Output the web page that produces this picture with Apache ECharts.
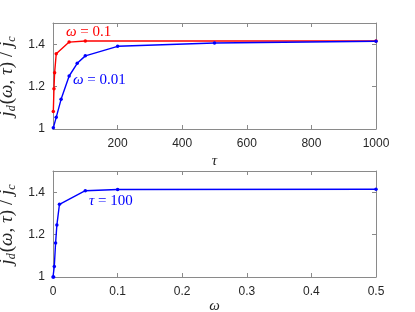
<!DOCTYPE html>
<html><head><meta charset="utf-8">
<script src="https://cdn.jsdelivr.net/npm/echarts@6/dist/echarts.min.js"></script>
<style>html,body{margin:0;padding:0;background:#fff}#c{width:415px;height:312px}</style>
</head><body><div id="c"></div>
<script>
// top panel: omega = 0.1 and omega = 0.01 versus tau
const tauRed = [1, 3, 5, 10, 50, 100, 1000];
const valRed = [1.083, 1.19, 1.265, 1.355, 1.41, 1.415, 1.415];
const tauBlue = [1, 10, 25, 50, 75, 100, 200, 500, 1000];
const valBlue = [1.006, 1.055, 1.14, 1.25, 1.31, 1.345, 1.39, 1.406, 1.414];
// bottom panel: tau = 100 versus omega
const omega = [0, 0.001, 0.002, 0.004, 0.006, 0.01, 0.05, 0.1, 0.5];
const valOmega = [1.0, 1.0, 1.05, 1.16, 1.245, 1.343, 1.407, 1.413, 1.414];
const xTicksTop = [0, 200, 400, 600, 800, 1000];
const xTicksBottom = [0, 0.1, 0.2, 0.3, 0.4, 0.5];
const yTicks = [1, 1.2, 1.4];

const axisCol = '#8a8a8a';
const txtCol = '#262626';
const serif = 'Liberation Serif';

function xAxisPair(gi, max, interval, hideZero, nameRich, gap) {
  return [
    {type:'value', gridIndex:gi, min:0, max:max, interval:interval, position:'bottom',
     axisLine:{show:true,onZero:false,lineStyle:{color:axisCol,width:1}},
     axisTick:{show:true,inside:true,length:4,lineStyle:{color:axisCol}},
     splitLine:{show:false},
     axisLabel:{color:txtCol,fontSize:12,fontFamily:'Liberation Sans',margin:9,
       formatter:v=> (hideZero && v===0) ? '' : String(v)},
     name:nameRich, nameLocation:'middle', nameGap:gap,
     nameTextStyle:{fontFamily:serif,fontStyle:'italic',fontSize:15,color:txtCol}},
    {type:'value', gridIndex:gi, min:0, max:max, interval:interval, position:'top',
     axisLine:{show:true,onZero:false,lineStyle:{color:axisCol,width:1}},
     axisTick:{show:true,inside:true,length:4,lineStyle:{color:axisCol}},
     splitLine:{show:false}, axisLabel:{show:false}}
  ];
}
function yAxisPair(gi) {
  return [
    {type:'value', gridIndex:gi, min:1, max:1.5, interval:0.2, position:'left',
     axisLine:{show:true,onZero:false,lineStyle:{color:axisCol,width:1}},
     axisTick:{show:true,inside:true,length:4,lineStyle:{color:axisCol}},
     splitLine:{show:false},
     axisLabel:{color:txtCol,fontSize:12,fontFamily:'Liberation Sans',margin:8,
       formatter:v=> yTicks.indexOf(Math.round(v*10)/10)>=0 ? (v===1?'1':v.toFixed(1)) : ''},
     name:'{i|j}{s|d}{r|(}{i|ω}{r|, }{i|τ}{r|) / }{i|j}{s|c}', nameLocation:'middle', nameGap:30, nameRotate:90,
     nameTextStyle:{color:txtCol, rich:{
       i:{fontFamily:serif,fontStyle:'italic',fontSize:19,color:txtCol},
       r:{fontFamily:serif,fontSize:19,color:txtCol},
       s:{fontFamily:serif,fontStyle:'italic',fontSize:12,color:txtCol,verticalAlign:'bottom',padding:[8,1,0,0]}
     }}},
    {type:'value', gridIndex:gi, min:1, max:1.5, interval:0.2, position:'right',
     axisLine:{show:true,onZero:false,lineStyle:{color:axisCol,width:1}},
     axisTick:{show:true,inside:true,length:4,lineStyle:{color:axisCol}},
     splitLine:{show:false}, axisLabel:{show:false}}
  ];
}

const chart = echarts.init(document.getElementById('c'), null, {renderer:'canvas'});
const lineSeries = (name, xi, yi, xs, ys, color) => ({
  name, type:'line', xAxisIndex:xi, yAxisIndex:yi,
  data: xs.map((x,i)=>[x, ys[i]]),
  symbol:'circle', symbolSize:3.5, showSymbol:true,
  lineStyle:{color, width:1.4}, itemStyle:{color}, animation:false, z:3
});
const rich = {
  i:{fontFamily:serif,fontStyle:'italic',fontSize:15},
  r:{fontFamily:serif,fontSize:15}
};
chart.setOption({
  animation:false,
  grid:[{left:53,right:39,top:23,height:106,containLabel:false,outerBoundsMode:'none'},
        {left:53,right:39,top:171,height:106,containLabel:false,outerBoundsMode:'none'}],
  xAxis:[...xAxisPair(0,1000,200,true,'τ',25), ...xAxisPair(1,0.5,0.1,false,'ω',22)],
  yAxis:[...yAxisPair(0), ...yAxisPair(1)],
  series:[
    lineSeries('w01',0,0,tauRed,valRed,'#ff0000'),
    lineSeries('w001',0,0,tauBlue,valBlue,'#0000ff'),
    lineSeries('t100',2,2,omega,valOmega,'#0000ff')
  ],
  graphic:[
    {type:'text',left:66,top:25,style:{text:'{i|ω}{r| = 0.1}',rich,fill:'#ff0000'}},
    {type:'text',left:73,top:73,style:{text:'{i|ω}{r| = 0.01}',rich,fill:'#0000ff'}},
    {type:'text',left:89,top:194,style:{text:'{i|τ}{r| = 100}',rich,fill:'#0000ff'}}
  ]
});
</script></body></html>
